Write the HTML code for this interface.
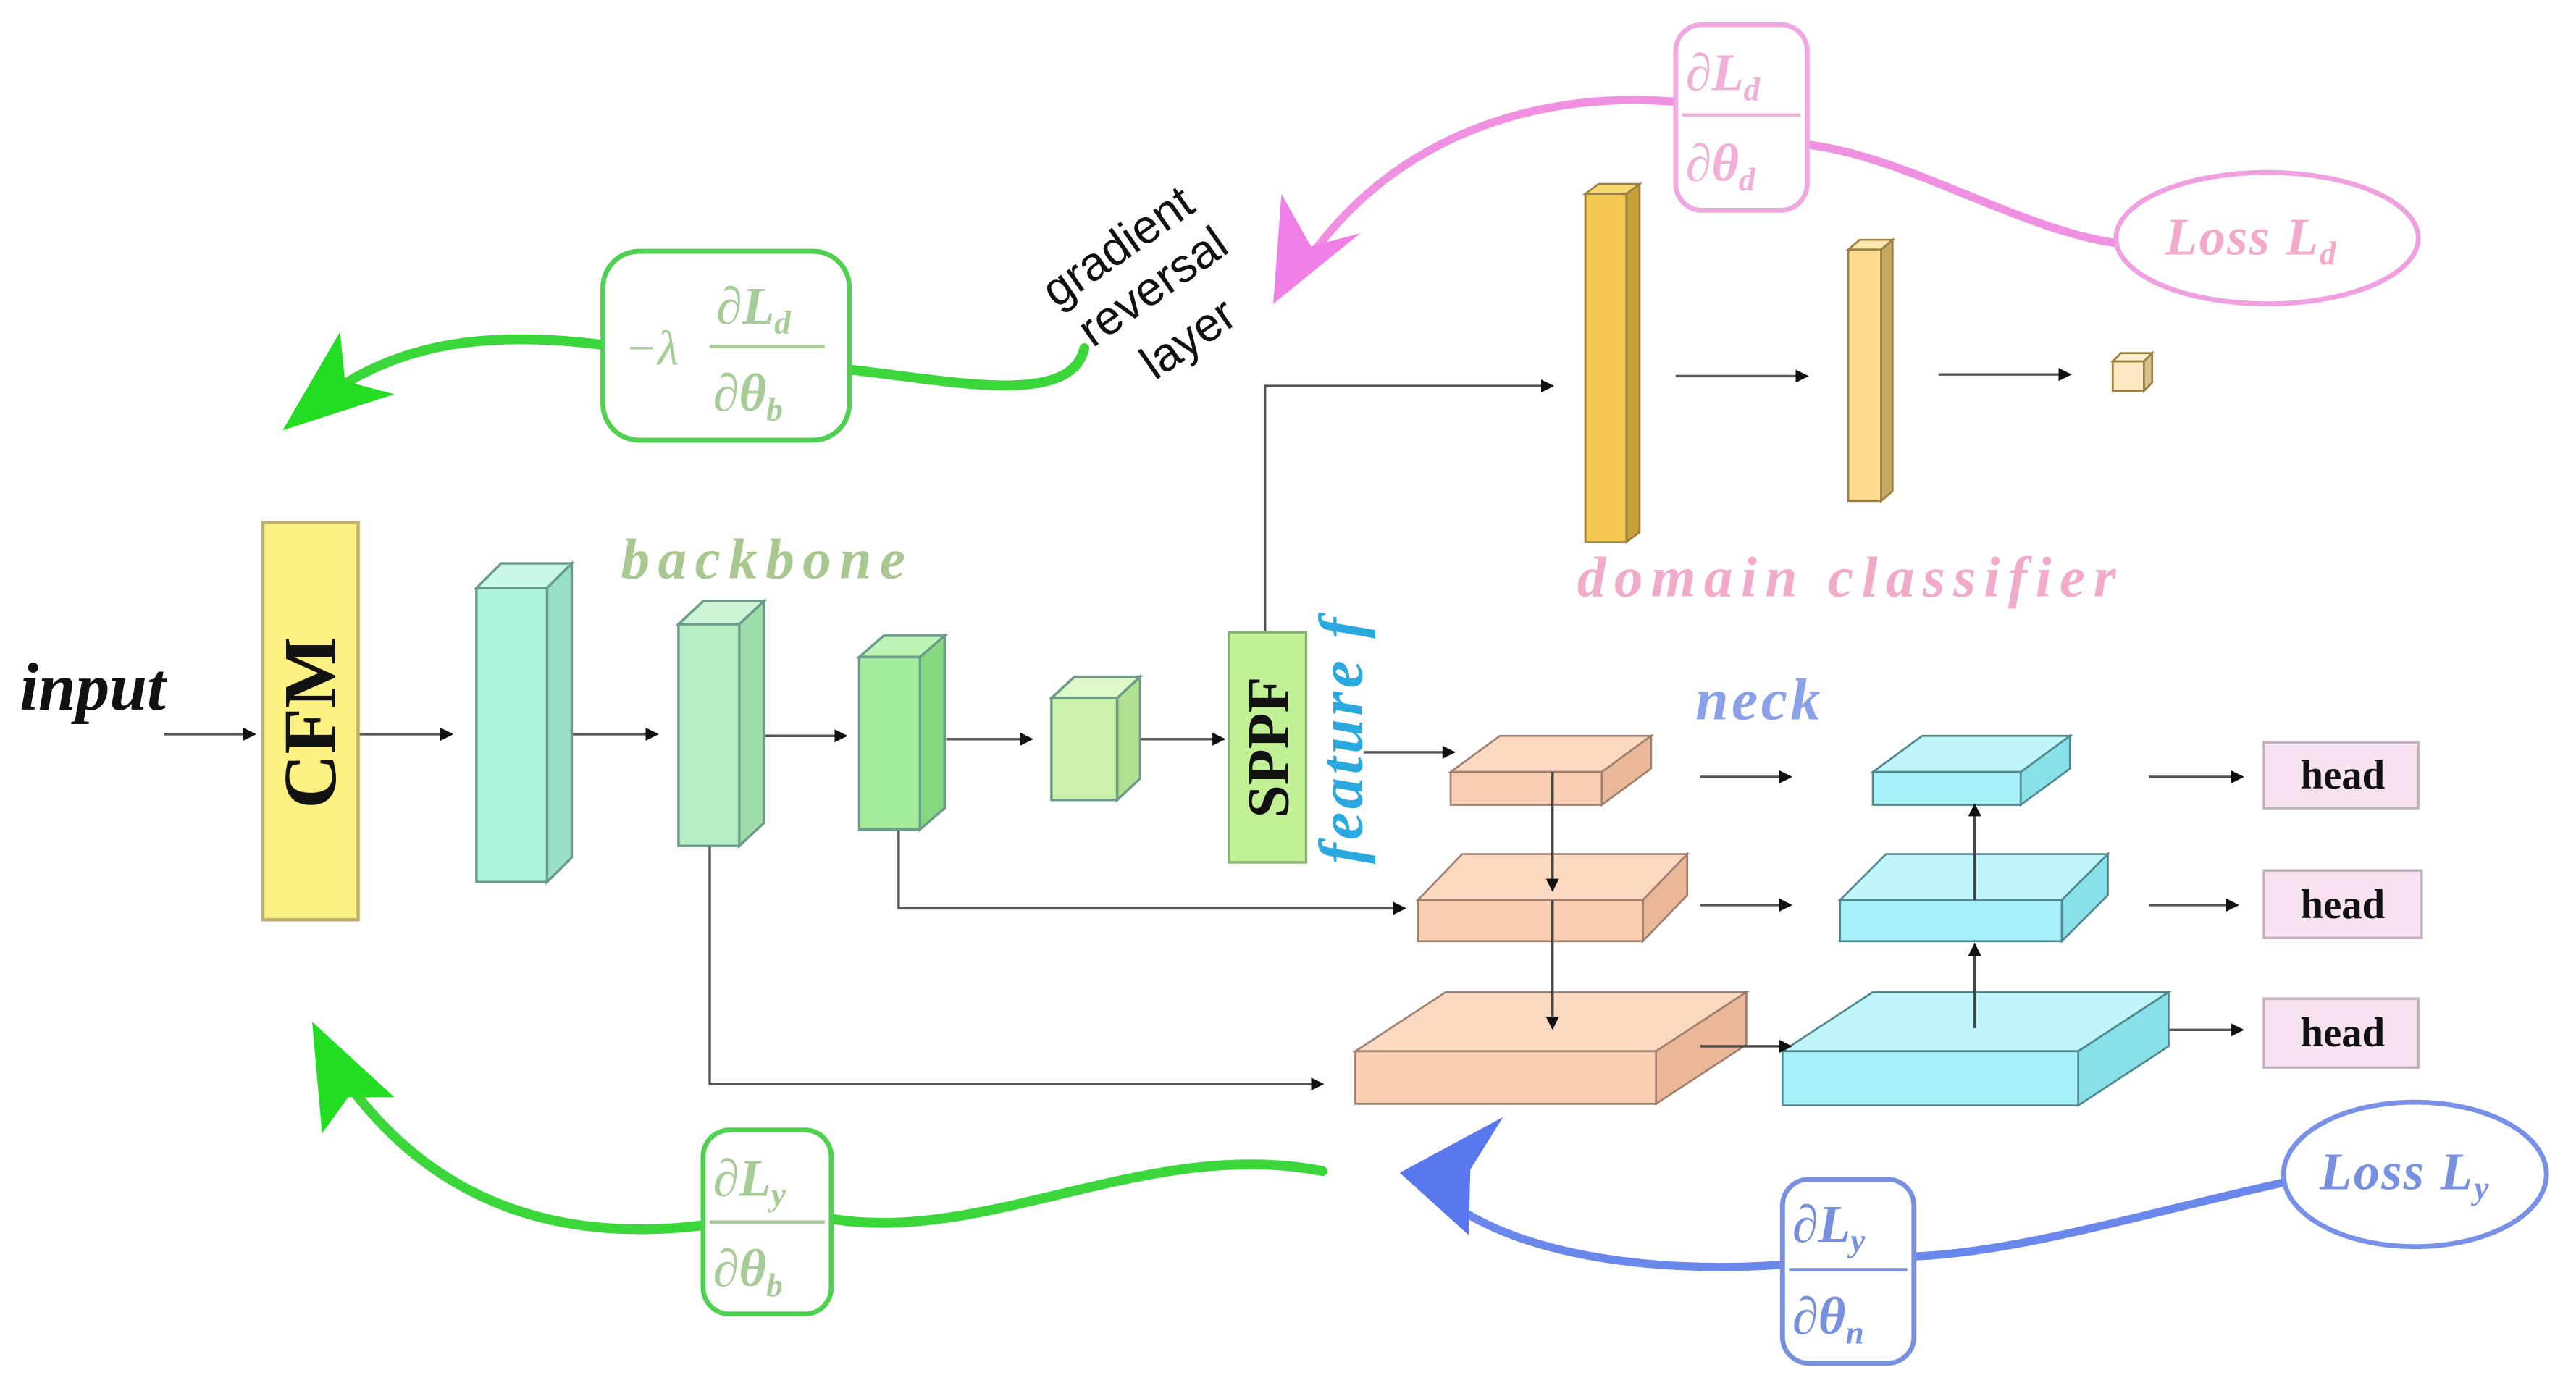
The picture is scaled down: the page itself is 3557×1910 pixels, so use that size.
<!DOCTYPE html>
<html><head><meta charset="utf-8"><style>
html,body{margin:0;padding:0;background:#fff}
svg{display:block}
</style></head><body>
<svg width="3557" height="1910" viewBox="0 0 1568 842" preserveAspectRatio="none" xmlns="http://www.w3.org/2000/svg">
<defs>
<marker id="a" markerWidth="8" markerHeight="8" refX="7" refY="4" orient="auto" markerUnits="userSpaceOnUse"><path d="M0,0 L8,4 L0,8 z" fill="#111"/></marker>
</defs>
<rect width="1568" height="842" fill="#fff"/>
<g font-family="Liberation Serif, serif">
<!-- input -->
<text x="12" y="432" font-size="41" font-style="italic" font-weight="bold" fill="#111">input</text>
<g stroke="#555" stroke-width="1.5" fill="none" marker-end="url(#a)">
<line x1="100" y1="447" x2="155" y2="447"/>
<line x1="218" y1="447" x2="275" y2="447"/>
<line x1="346" y1="447" x2="400" y2="447"/>
<line x1="462" y1="448" x2="515" y2="448"/>
<line x1="576" y1="450" x2="628" y2="450"/>
<line x1="692" y1="450" x2="745" y2="450"/>
<polyline points="770,385 770,235 945,235"/>
<line x1="1020" y1="229" x2="1100" y2="229"/>
<line x1="1180" y1="228" x2="1260" y2="228"/>
<line x1="830" y1="458" x2="885" y2="458"/>
<polyline points="547,505 547,553 855,553"/>
<polyline points="432,515 432,660 805,660"/>
<line x1="1035" y1="473" x2="1090" y2="473"/>
<line x1="1035" y1="551" x2="1090" y2="551"/>
<line x1="1308" y1="473" x2="1365" y2="473"/>
<line x1="1308" y1="551" x2="1362" y2="551"/>
<line x1="1305" y1="627" x2="1365" y2="627"/>
</g>
<!-- CFM -->
<rect x="160" y="318" width="58" height="242" fill="#fbf082" stroke="#c0b070" stroke-width="2"/>
<text transform="translate(204,440) rotate(-90)" text-anchor="middle" font-size="46" font-weight="bold" fill="#111">CFM</text>
<!-- backbone boxes -->
<g stroke="#6a9a88" stroke-width="1.5">
<polygon points="290,358 305,343 348,343 333,358" fill="#c8f8e8"/><polygon points="333,358 348,343 348,522 333,537" fill="#98e0c8"/><rect x="290" y="358" width="43" height="179" fill="#aef5dc"/>
<polygon points="413,380 428,366 465,366 450,380" fill="#cdf5d5"/><polygon points="450,380 465,366 465,501 450,515" fill="#9edcaa"/><rect x="413" y="380" width="37" height="135" fill="#b8eec4"/>
<polygon points="523,400 538,387 575,387 560,400" fill="#bdf5b5"/><polygon points="560,400 575,387 575,492 560,505" fill="#86d880"/><rect x="523" y="400" width="37" height="105" fill="#a2ec9a"/>
<polygon points="640,425 654,412 694,412 680,425" fill="#def8c8"/><polygon points="680,425 694,412 694,474 680,487" fill="#b0e090"/><rect x="640" y="425" width="40" height="62" fill="#cbf2aa"/>
</g>
<rect x="748" y="385" width="47" height="140" fill="#c2f095" stroke="#88b070" stroke-width="1.5"/>
<text transform="translate(784,455) rotate(-90)" text-anchor="middle" font-size="36" font-weight="bold" fill="#111">SPPF</text>
<text transform="translate(829,450) rotate(-90)" text-anchor="middle" font-size="38" font-style="italic" font-weight="bold" fill="#2aa8e0" letter-spacing="2">feature f</text>
<text x="378" y="352" font-size="35" font-style="italic" font-weight="bold" fill="#a8c890" letter-spacing="5">backbone</text>
<!-- domain classifier -->
<g stroke="#9a8040" stroke-width="1.2">
<polygon points="965,118 973,112 998,112 990,118" fill="#f8d870"/><polygon points="990,118 998,112 998,324 990,330" fill="#c8a038"/><rect x="965" y="118" width="25" height="212" fill="#f5c850"/>
<polygon points="1125,152 1132,146 1152,146 1145,152" fill="#fde8b0"/><polygon points="1145,152 1152,146 1152,299 1145,305" fill="#c8a860"/><rect x="1125" y="152" width="20" height="153" fill="#fcdc90"/>
<polygon points="1286,220 1291,215 1310,215 1305,220" fill="#fff0d0"/><polygon points="1305,220 1310,215 1310,233 1305,238" fill="#d8c090"/><rect x="1286" y="220" width="19" height="18" fill="#fbe8c0"/>
</g>
<text x="960" y="363" font-size="35" font-style="italic" font-weight="bold" fill="#f2aacb" letter-spacing="5">domain classifier</text>
<text x="1032" y="438" font-size="36" font-style="italic" font-weight="bold" fill="#8aa0e8" letter-spacing="2">neck</text>
<!-- neck slabs -->
<g stroke="#a08070" stroke-width="1.2">
<polygon points="883,470 913,448 1005,448 975,470" fill="#fbd8c0"/><polygon points="975,470 1005,448 1005,468 975,490" fill="#eab898"/><rect x="883" y="470" width="92" height="20" fill="#f8cdb0"/>
<polygon points="863,548 890,520 1027,520 1000,548" fill="#fbd8c0"/><polygon points="1000,548 1027,520 1027,545 1000,573" fill="#eab898"/><rect x="863" y="548" width="137" height="25" fill="#f8cdb0"/>
<polygon points="825,640 880,604 1063,604 1008,640" fill="#fbd8c0"/><polygon points="1008,640 1063,604 1063,636 1008,672" fill="#eab898"/><rect x="825" y="640" width="183" height="32" fill="#f8cdb0"/>
</g>
<g stroke="#508890" stroke-width="1.2">
<polygon points="1140,470 1170,448 1260,448 1230,470" fill="#c0f6fa"/><polygon points="1230,470 1260,448 1260,468 1230,490" fill="#88e0e8"/><rect x="1140" y="470" width="90" height="20" fill="#a8f0f8"/>
<polygon points="1120,548 1148,520 1283,520 1255,548" fill="#c0f6fa"/><polygon points="1255,548 1283,520 1283,545 1255,573" fill="#88e0e8"/><rect x="1120" y="548" width="135" height="25" fill="#a8f0f8"/>
<polygon points="1085,640 1140,604 1320,604 1265,640" fill="#c0f6fa"/><polygon points="1265,640 1320,604 1320,637 1265,673" fill="#88e0e8"/><rect x="1085" y="640" width="180" height="33" fill="#a8f0f8"/>
</g>
<g stroke="#444" stroke-width="1.5" fill="none" marker-end="url(#a)">
<line x1="945" y1="470" x2="945" y2="542"/>
<line x1="945" y1="548" x2="945" y2="626"/>
<line x1="1202" y1="626" x2="1202" y2="575"/>
<line x1="1202" y1="548" x2="1202" y2="490"/>
<line x1="1035" y1="637" x2="1090" y2="637"/>
</g>
<!-- heads -->
<g fill="#f8e2f2" stroke="#c0b0c0" stroke-width="1.5">
<rect x="1378" y="452" width="94" height="40"/><rect x="1378" y="530" width="96" height="41"/><rect x="1378" y="608" width="94" height="42"/>
</g>
<g font-size="25" font-weight="bold" fill="#111" text-anchor="middle">
<text x="1426" y="480">head</text><text x="1426" y="559">head</text><text x="1426" y="637">head</text>
</g>
<!-- gradient reversal text -->
<g font-family="Liberation Sans, sans-serif" font-size="29" fill="#111">
<text transform="translate(643,188) rotate(-35)">gradient</text>
<text transform="translate(665,212) rotate(-35)">reversal</text>
<text transform="translate(703,232) rotate(-35)">layer</text>
</g>
<!-- curves -->
<g fill="none" stroke-width="6" stroke-linecap="round">
<path d="M660,212 C652,248 580,232 517,225" stroke="#3ad63a"/>
<path d="M367,210 C290,200 240,212 200,240" stroke="#3ad63a"/>
<path d="M805,713 C700,692 600,758 506,742" stroke="#3ad63a"/>
<path d="M428,746 C330,758 260,725 212,660" stroke="#3ad63a"/>
<path d="M1288,148 C1230,140 1160,95 1100,88" stroke="#f090e0" stroke-width="5"/>
<path d="M1020,62 C940,55 850,80 795,160" stroke="#f090e0" stroke-width="5"/>
<path d="M1390,720 C1300,740 1230,762 1165,765" stroke="#6a88ec" stroke-width="5"/>
<path d="M1085,770 C1000,776 920,762 880,730" stroke="#6a88ec" stroke-width="5"/>
</g>
<polygon points="172,262 207,202 210,232 240,240" fill="#22dd22"/>
<polygon points="190,622 240,668 212,668 196,690" fill="#22dd22"/>
<polygon points="775,185 780,118 798,150 828,142" fill="#f080e8"/>
<polygon points="852,714 915,680 895,712 894,752" fill="#5a78ee"/>
<!-- formula boxes -->
<rect x="367" y="153" width="150" height="115" rx="22" fill="#fff" stroke="#50d050" stroke-width="3"/>
<text x="380" y="222" font-size="30" font-style="italic" fill="#a8cc98">−λ</text>
<line x1="432" y1="211" x2="502" y2="211" stroke="#a8cc98" stroke-width="2"/>
<text x="436" y="197" font-size="32" font-weight="bold" font-style="italic" fill="#a8cc98">∂L<tspan font-size="20" dy="6">d</tspan></text>
<text x="434" y="250" font-size="32" font-weight="bold" font-style="italic" fill="#a8cc98">∂θ<tspan font-size="20" dy="6">b</tspan></text>

<rect x="428" y="688" width="78" height="112" rx="16" fill="#fff" stroke="#50d050" stroke-width="3"/>
<line x1="432" y1="744" x2="502" y2="744" stroke="#a8cc98" stroke-width="2"/>
<text x="434" y="728" font-size="32" font-weight="bold" font-style="italic" fill="#a8cc98">∂L<tspan font-size="20" dy="6">y</tspan></text>
<text x="434" y="783" font-size="32" font-weight="bold" font-style="italic" fill="#a8cc98">∂θ<tspan font-size="20" dy="6">b</tspan></text>

<rect x="1020" y="15" width="80" height="113" rx="16" fill="#fff" stroke="#f0a8e0" stroke-width="3"/>
<line x1="1024" y1="70" x2="1096" y2="70" stroke="#f0b0d8" stroke-width="2"/>
<text x="1026" y="55" font-size="32" font-weight="bold" font-style="italic" fill="#f0b0d8">∂L<tspan font-size="20" dy="6">d</tspan></text>
<text x="1026" y="110" font-size="32" font-weight="bold" font-style="italic" fill="#f0b0d8">∂θ<tspan font-size="20" dy="6">d</tspan></text>

<rect x="1085" y="718" width="80" height="112" rx="16" fill="#fff" stroke="#7890e0" stroke-width="3"/>
<line x1="1089" y1="773" x2="1161" y2="773" stroke="#7890e0" stroke-width="2"/>
<text x="1091" y="756" font-size="32" font-weight="bold" font-style="italic" fill="#7890e0">∂L<tspan font-size="20" dy="6">y</tspan></text>
<text x="1091" y="812" font-size="32" font-weight="bold" font-style="italic" fill="#7890e0">∂θ<tspan font-size="20" dy="6">n</tspan></text>
<!-- losses -->
<ellipse cx="1380" cy="145" rx="92" ry="40" fill="#fff" stroke="#f0a0e0" stroke-width="3"/>
<text x="1318" y="155" font-size="32" font-weight="bold" font-style="italic" fill="#f2aacb" letter-spacing="1">Loss L<tspan font-size="20" dy="6">d</tspan></text>
<ellipse cx="1470" cy="715" rx="80" ry="44" fill="#fff" stroke="#7890e8" stroke-width="3"/>
<text x="1412" y="724" font-size="32" font-weight="bold" font-style="italic" fill="#7890e0" letter-spacing="1">Loss L<tspan font-size="20" dy="6">y</tspan></text>
</g>
</svg>
</body></html>
